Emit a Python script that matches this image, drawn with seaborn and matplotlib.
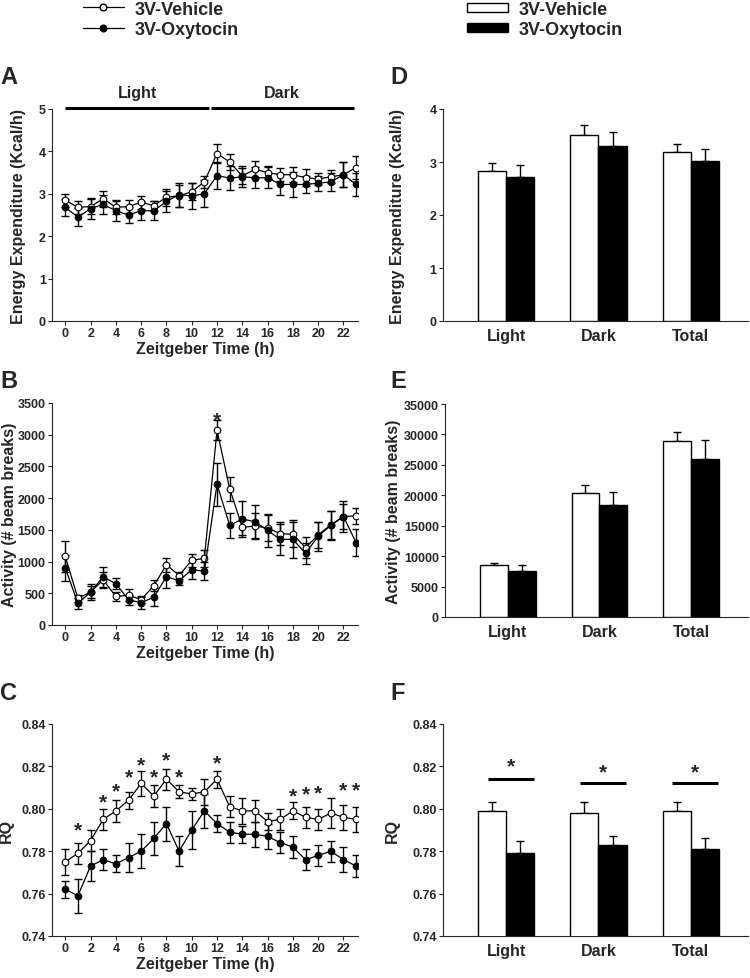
import numpy as np
import pandas as pd
import matplotlib
matplotlib.use('Agg')
import matplotlib.pyplot as plt
import seaborn as sns
from matplotlib.lines import Line2D
from matplotlib.patches import Patch

hours = list(range(24))

# energy expenditure (Kcal/h), mean and SEM per hour
ee_veh = [2.85, 2.68, 2.70, 2.88, 2.68, 2.70, 2.80, 2.72, 2.92, 2.95, 3.05, 3.28,
          3.95, 3.75, 3.42, 3.58, 3.50, 3.45, 3.45, 3.38, 3.35, 3.40, 3.45, 3.62]
ee_veh_err = [0.15, 0.15, 0.18, 0.18, 0.15, 0.15, 0.15, 0.12, 0.20, 0.25, 0.20, 0.15,
              0.22, 0.18, 0.20, 0.20, 0.15, 0.15, 0.18, 0.20, 0.15, 0.15, 0.30, 0.27]
ee_oxy = [2.68, 2.45, 2.65, 2.75, 2.60, 2.50, 2.60, 2.60, 2.82, 2.98, 2.95, 3.00,
          3.43, 3.37, 3.40, 3.38, 3.38, 3.22, 3.22, 3.22, 3.25, 3.28, 3.45, 3.22]
ee_oxy_err = [0.20, 0.22, 0.25, 0.22, 0.25, 0.18, 0.22, 0.22, 0.25, 0.28, 0.30, 0.32,
              0.32, 0.28, 0.25, 0.25, 0.25, 0.25, 0.30, 0.20, 0.18, 0.22, 0.30, 0.28]

# activity (# beam breaks)
act_veh = [1080, 420, 520, 710, 450, 470, 400, 620, 950, 780, 1020, 1050,
           3070, 2150, 1540, 1560, 1530, 1440, 1430, 1220, 1420, 1580, 1710, 1720]
act_veh_err = [240, 60, 100, 120, 70, 90, 60, 90, 110, 60, 100, 130,
               160, 190, 120, 200, 200, 180, 200, 170, 200, 220, 200, 130]
act_oxy = [900, 340, 520, 760, 650, 400, 350, 440, 760, 700, 870, 850,
           2220, 1570, 1670, 1630, 1490, 1350, 1350, 1130, 1400, 1570, 1710, 1300]
act_oxy_err = [200, 90, 130, 160, 90, 80, 90, 140, 180, 70, 150, 140,
               340, 200, 290, 260, 260, 250, 300, 170, 230, 230, 250, 220]
act_star_hours = [12]
act_star_y = [3330]

# respiratory quotient
rq_veh = [0.775, 0.779, 0.785, 0.795, 0.799, 0.804, 0.812, 0.806, 0.814, 0.808, 0.807, 0.808,
          0.814, 0.801, 0.799, 0.799, 0.794, 0.795, 0.799, 0.796, 0.795, 0.798, 0.796, 0.795]
rq_veh_err = [0.006, 0.005, 0.005, 0.005, 0.005, 0.004, 0.006, 0.005, 0.005, 0.003, 0.003, 0.006,
              0.004, 0.005, 0.006, 0.005, 0.004, 0.005, 0.004, 0.005, 0.005, 0.007, 0.006, 0.006]
rq_oxy = [0.762, 0.759, 0.773, 0.776, 0.774, 0.777, 0.780, 0.786, 0.793, 0.780, 0.790, 0.799,
          0.793, 0.789, 0.788, 0.788, 0.787, 0.784, 0.782, 0.776, 0.778, 0.780, 0.776, 0.773]
rq_oxy_err = [0.004, 0.008, 0.007, 0.005, 0.004, 0.007, 0.008, 0.008, 0.008, 0.007, 0.009, 0.008,
              0.004, 0.005, 0.004, 0.006, 0.006, 0.005, 0.005, 0.005, 0.005, 0.005, 0.006, 0.005]
rq_star_hours = [1, 3, 4, 5, 6, 7, 8, 9, 12, 18, 19, 20, 22, 23]
rq_star_y = [0.7928, 0.8058, 0.8112, 0.8175, 0.8235, 0.8175, 0.8258, 0.8175, 0.8243,
             0.8088, 0.8096, 0.8101, 0.8117, 0.8117]

# bar summaries
periods = ['Light', 'Dark', 'Total']
groups = ['3V-Vehicle', '3V-Oxytocin']
ee_bar_veh, ee_bar_veh_err = [2.83, 3.51, 3.18], [0.15, 0.18, 0.16]
ee_bar_oxy, ee_bar_oxy_err = [2.71, 3.31, 3.02], [0.23, 0.25, 0.23]
act_bar_veh, act_bar_veh_err = [8500, 20400, 28900], [300, 1300, 1500]
act_bar_oxy, act_bar_oxy_err = [7600, 18400, 26000], [1000, 2200, 3100]
rq_bar_veh, rq_bar_veh_err = [0.799, 0.798, 0.799], [0.004, 0.005, 0.004]
rq_bar_oxy, rq_bar_oxy_err = [0.779, 0.783, 0.781], [0.006, 0.004, 0.005]
rq_sig_line_y = [0.8141, 0.8121, 0.8121]
rq_sig_star_y = [0.8227, 0.8200, 0.8200]

sns.set_theme(style='ticks')
plt.rcParams['font.family'] = ['Liberation Sans', 'DejaVu Sans']
plt.rcParams['font.weight'] = 'bold'
plt.rcParams['axes.labelweight'] = 'bold'
plt.rcParams['axes.linewidth'] = 0.8

W, H = 750, 979
fig = plt.figure(figsize=(W / 100, H / 100), dpi=100)


def px_axes(left, top, right, bottom):
    return fig.add_axes([left / W, 1 - bottom / H, (right - left) / W, (bottom - top) / H])


def star(ax, x, y, size=15):
    ax.annotate('*', (x, y), xytext=(0, -8), textcoords='offset points',
                ha='center', va='baseline', fontsize=size, fontweight='bold')


def line_panel(ax, veh, veh_err, oxy, oxy_err, ylim, yticks, ylabel, fmt):
    ax.errorbar(hours, veh, yerr=veh_err, fmt='none', ecolor='black', elinewidth=1,
                capsize=3, capthick=1, zorder=2)
    ax.errorbar(hours, oxy, yerr=oxy_err, fmt='none', ecolor='black', elinewidth=1,
                capsize=3, capthick=1, zorder=2)
    sns.lineplot(x=hours, y=veh, ax=ax, color='black', linewidth=0.9, marker='o',
                 markersize=4.8, markerfacecolor='white', markeredgecolor='black',
                 markeredgewidth=0.8, zorder=3)
    sns.lineplot(x=hours, y=oxy, ax=ax, color='black', linewidth=0.9, marker='o',
                 markersize=4.8, markerfacecolor='black', markeredgecolor='black', zorder=4)
    ax.set_xlim(-1.05, 23.15)
    ax.set_ylim(*ylim)
    ax.set_xticks(range(0, 24, 2))
    ax.set_yticks(yticks)
    ax.set_yticklabels([fmt.format(t) for t in yticks])
    ax.tick_params(axis='both', labelsize=9, length=3, width=0.8, pad=1.5)
    ax.set_xlabel('Zeitgeber Time (h)', fontsize=11.5, labelpad=1)
    ax.set_ylabel(ylabel, fontsize=11.5)
    sns.despine(ax=ax)


def bar_panel(ax, veh, veh_err, oxy, oxy_err, ylim, yticks, ylabel, fmt):
    df = pd.DataFrame({'period': periods * 2,
                       'group': [groups[0]] * 3 + [groups[1]] * 3,
                       'value': veh + oxy})
    sns.barplot(data=df, x='period', y='value', hue='group', ax=ax,
                palette={groups[0]: 'white', groups[1]: 'black'}, edgecolor='black',
                linewidth=1, width=0.61, gap=0, errorbar=None, legend=False, zorder=3)
    for container, err in zip(ax.containers, [veh_err, oxy_err]):
        xs = [b.get_x() + b.get_width() / 2 for b in container]
        ys = [b.get_height() for b in container]
        ax.errorbar(xs, ys, yerr=[np.zeros(len(err)), err], fmt='none', ecolor='black',
                    elinewidth=1, capsize=3, capthick=1, zorder=2)
    ax.set_xlim(-0.685, 2.62)
    ax.set_ylim(*ylim)
    ax.set_yticks(yticks)
    ax.set_yticklabels([fmt.format(t) for t in yticks])
    ax.tick_params(axis='y', labelsize=9, length=3, width=0.8, pad=1.5)
    ax.tick_params(axis='x', labelsize=11.5, length=0, pad=5)
    ax.set_xlabel('')
    ax.set_ylabel(ylabel, fontsize=11.5)
    sns.despine(ax=ax)


# left column: hourly traces
axA = px_axes(52, 110, 358, 322)
line_panel(axA, ee_veh, ee_veh_err, ee_oxy, ee_oxy_err, (0, 5), range(0, 6),
           'Energy Expenditure (Kcal/h)', '{:d}')
light_span, dark_span = (0, 11.4), (11.5, 22.8)
for span, label in [(light_span, 'Light'), (dark_span, 'Dark')]:
    axA.plot(span, [5.02, 5.02], color='black', lw=2.2, clip_on=False, solid_capstyle='butt')
    axA.text(sum(span) / 2, 5.4, label, ha='center', va='center', fontsize=11.5,
             fontweight='bold', clip_on=False)
axA.yaxis.set_label_coords(-0.085, 0.5)

axB = px_axes(52, 404, 358, 626)
line_panel(axB, act_veh, act_veh_err, act_oxy, act_oxy_err, (0, 3500), range(0, 3501, 500),
           'Activity (# beam breaks)', '{:d}')
for h, y in zip(act_star_hours, act_star_y):
    star(axB, h, y)
axB.yaxis.set_label_coords(-0.115, 0.5)

axC = px_axes(52, 725, 358, 937)
line_panel(axC, rq_veh, rq_veh_err, rq_oxy, rq_oxy_err, (0.74, 0.84),
           [0.74, 0.76, 0.78, 0.80, 0.82, 0.84], 'RQ', '{:.2f}')
for h, y in zip(rq_star_hours, rq_star_y):
    star(axC, h, y)
axC.yaxis.set_label_coords(-0.125, 0.5)

# right column: period summaries
axD = px_axes(443, 110, 748, 322)
bar_panel(axD, ee_bar_veh, ee_bar_veh_err, ee_bar_oxy, ee_bar_oxy_err, (0, 4), range(0, 5),
          'Energy Expenditure (Kcal/h)', '{:d}')
axD.yaxis.set_label_coords(-0.125, 0.5)

axE = px_axes(445, 405, 748, 618)
bar_panel(axE, act_bar_veh, act_bar_veh_err, act_bar_oxy, act_bar_oxy_err, (0, 35000),
          range(0, 35001, 5000), 'Activity (# beam breaks)', '{:d}')
axE.yaxis.set_label_coords(-0.145, 0.5)

axF = px_axes(443, 725, 748, 937)
bar_panel(axF, rq_bar_veh, rq_bar_veh_err, rq_bar_oxy, rq_bar_oxy_err, (0.74, 0.84),
          [0.74, 0.76, 0.78, 0.80, 0.82, 0.84], 'RQ', '{:.2f}')
for i, (ly, sy) in enumerate(zip(rq_sig_line_y, rq_sig_star_y)):
    axF.plot([i - 0.2, i + 0.3], [ly, ly], color='black', lw=2.2, solid_capstyle='butt')
    star(axF, i + 0.05, sy)
axF.yaxis.set_label_coords(-0.14, 0.5)

# panel letters
for letter, x, y in [('A', 0, 78), ('B', 0, 382), ('C', 0, 694),
                     ('D', 390, 78), ('E', 390, 382), ('F', 390, 694)]:
    fig.text(x / W, 1 - y / H, letter, ha='left', va='center', fontsize=17, fontweight='bold')

# legends
line_handles = [Line2D([], [], color='black', lw=0.9, marker='o', markersize=4.8,
                       markerfacecolor='white', markeredgecolor='black'),
                Line2D([], [], color='black', lw=0.9, marker='o', markersize=4.8,
                       markerfacecolor='black', markeredgecolor='black')]
fig.legend(line_handles, groups, loc='center left', bbox_to_anchor=(83 / W, 1 - 20.5 / H),
           frameon=False, fontsize=13, handlelength=2.25, handletextpad=0.6,
           labelspacing=0.2, borderpad=0, borderaxespad=0)
bar_handles = [Patch(facecolor='white', edgecolor='black', lw=1),
               Patch(facecolor='black', edgecolor='black', lw=1)]
fig.legend(bar_handles, groups, loc='center left', bbox_to_anchor=(467 / W, 1 - 20.5 / H),
           frameon=False, fontsize=13, handlelength=2.25, handleheight=0.4,
           handletextpad=0.6, labelspacing=0.2, borderpad=0, borderaxespad=0)

fig.savefig('out.png', dpi=100)
